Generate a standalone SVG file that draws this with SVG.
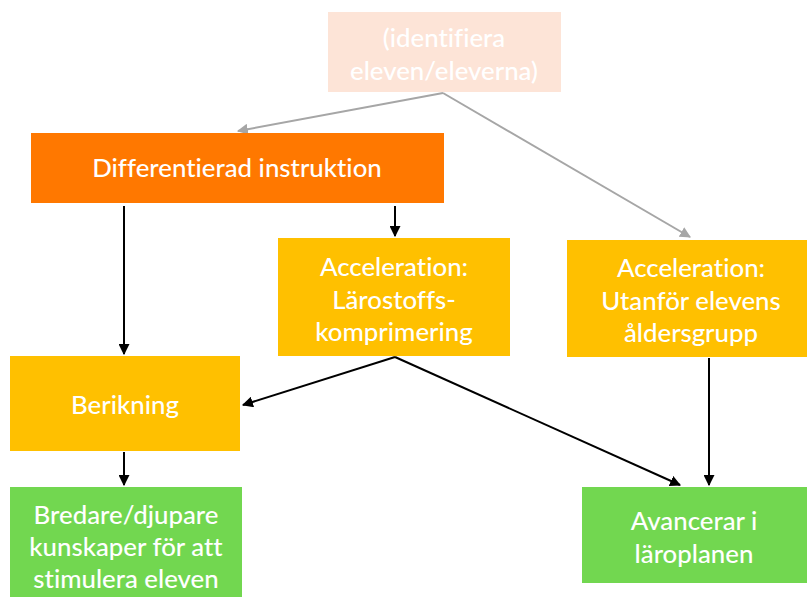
<svg xmlns="http://www.w3.org/2000/svg" width="807" height="597" viewBox="0 0 807 597">
<defs>
<style>
.t{font-family:Lato,"Open Sans","Liberation Sans",sans-serif;font-size:25.8px;fill:#fff;text-anchor:middle;font-weight:500;font-variant-ligatures:none}
.k{stroke:#000;stroke-width:2;fill:none}
.g{stroke:#A6A6A6;stroke-width:2;fill:none}
</style>
<marker id="ak" viewBox="0 0 10 10" refX="9" refY="5" markerWidth="5.5" markerHeight="5.5" orient="auto"><path d="M0,0L10,5L0,10z" fill="#000"/></marker>
<marker id="ag" viewBox="0 0 10 10" refX="9" refY="5" markerWidth="5.5" markerHeight="5.5" orient="auto"><path d="M0,0L10,5L0,10z" fill="#A6A6A6"/></marker>
</defs>
<rect width="807" height="597" fill="#fff"/>
<g id="connectors">
<path class="g" d="M443,93L238,131" marker-end="url(#ag)"/>
<path class="g" d="M443,93L690,237" marker-end="url(#ag)"/>
<path class="k" d="M124,206V354" marker-end="url(#ak)"/>
<path class="k" d="M395,206V236" marker-end="url(#ak)"/>
<path class="k" d="M395,357L243,405" marker-end="url(#ak)"/>
<path class="k" d="M395,357L680,485" marker-end="url(#ak)"/>
<path class="k" d="M709,358V485" marker-end="url(#ak)"/>
<path class="k" d="M124,452V485" marker-end="url(#ak)"/>
</g>
<g id="identifiera">
<rect x="328" y="12" width="233" height="80" fill="#FDE4D7"/>
<text class="t" x="444" y="47">(identifiera</text>
<text class="t" x="444" y="80">eleven/eleverna)</text>
</g>
<g id="differentierad">
<rect x="31" y="133" width="413" height="70" fill="#FF7800"/>
<text class="t" x="237" y="177">Differentierad instruktion</text>
</g>
<g id="larostoffs">
<rect x="278" y="238" width="232" height="118" fill="#FFC000"/>
<text class="t" x="394" y="276">Acceleration:</text>
<text class="t" x="394" y="309">Lärostoffs-</text>
<text class="t" x="394" y="341">komprimering</text>
</g>
<g id="utanfor">
<rect x="567" y="240" width="240" height="117" fill="#FFC000"/>
<text class="t" x="691" y="277">Acceleration:</text>
<text class="t" x="691" y="310">Utanför elevens</text>
<text class="t" x="691" y="342">åldersgrupp</text>
</g>
<g id="berikning">
<rect x="10" y="356" width="230" height="95" fill="#FFC000"/>
<text class="t" x="125" y="414">Berikning</text>
</g>
<g id="bredare">
<rect x="10" y="487" width="232" height="110" fill="#72D750"/>
<text class="t" x="126" y="524">Bredare/djupare</text>
<text class="t" x="126" y="556">kunskaper för att</text>
<text class="t" x="126" y="588">stimulera eleven</text>
</g>
<g id="avancerar">
<rect x="582" y="487" width="225" height="96" fill="#72D750"/>
<text class="t" x="694" y="530">Avancerar i</text>
<text class="t" x="694" y="563">läroplanen</text>
</g>
</svg>
